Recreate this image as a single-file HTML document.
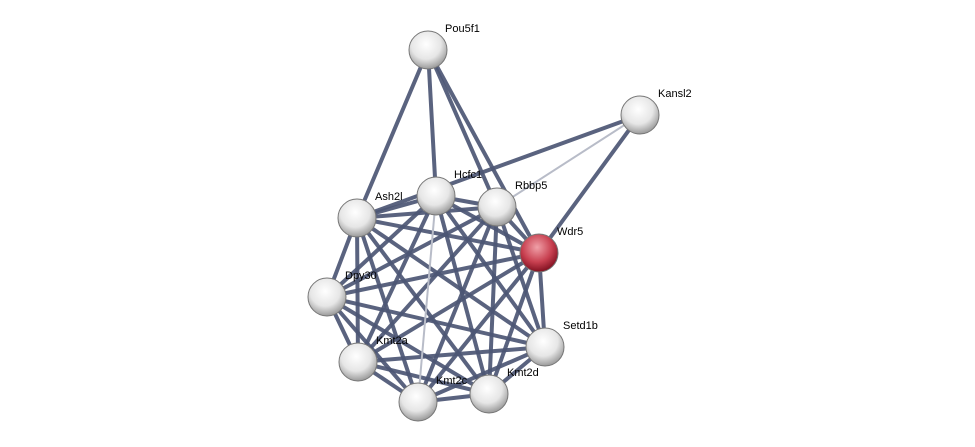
<!DOCTYPE html>
<html><head><meta charset="utf-8"><style>
html,body{margin:0;padding:0;background:#fff;}
svg{display:block;}
text{font-family:"Liberation Sans",sans-serif;font-size:11px;fill:#000;}
</style></head><body>
<svg width="975" height="447" viewBox="0 0 975 447" xmlns="http://www.w3.org/2000/svg">
<defs>
<radialGradient id="g" cx="45%" cy="35%" r="65%">
<stop offset="0" stop-color="#ffffff"/><stop offset="0.6" stop-color="#e6e6e6"/><stop offset="1" stop-color="#9a9a9a"/>
</radialGradient>
<radialGradient id="r" cx="45%" cy="35%" r="65%">
<stop offset="0" stop-color="#f0a0a8"/><stop offset="0.6" stop-color="#c84050"/><stop offset="1" stop-color="#801020"/>
</radialGradient>
</defs>
<g stroke="#4c5674" stroke-width="4" stroke-opacity="0.92" stroke-linecap="round">
<line x1="428" y1="50" x2="357" y2="218"/>
<line x1="428" y1="50" x2="436" y2="196"/>
<line x1="428" y1="50" x2="497" y2="207"/>
<line x1="428" y1="50" x2="539" y2="253"/>
<line x1="640" y1="115" x2="357" y2="218"/>
<line x1="640" y1="115" x2="539" y2="253"/>
<line x1="357" y1="218" x2="436" y2="196"/>
<line x1="357" y1="218" x2="497" y2="207"/>
<line x1="357" y1="218" x2="539" y2="253"/>
<line x1="357" y1="218" x2="327" y2="297"/>
<line x1="357" y1="218" x2="545" y2="347"/>
<line x1="357" y1="218" x2="358" y2="362"/>
<line x1="357" y1="218" x2="418" y2="402"/>
<line x1="357" y1="218" x2="489" y2="394"/>
<line x1="436" y1="196" x2="497" y2="207"/>
<line x1="436" y1="196" x2="539" y2="253"/>
<line x1="436" y1="196" x2="327" y2="297"/>
<line x1="436" y1="196" x2="545" y2="347"/>
<line x1="436" y1="196" x2="358" y2="362"/>
<line x1="436" y1="196" x2="489" y2="394"/>
<line x1="497" y1="207" x2="539" y2="253"/>
<line x1="497" y1="207" x2="327" y2="297"/>
<line x1="497" y1="207" x2="545" y2="347"/>
<line x1="497" y1="207" x2="358" y2="362"/>
<line x1="497" y1="207" x2="418" y2="402"/>
<line x1="497" y1="207" x2="489" y2="394"/>
<line x1="539" y1="253" x2="327" y2="297"/>
<line x1="539" y1="253" x2="545" y2="347"/>
<line x1="539" y1="253" x2="358" y2="362"/>
<line x1="539" y1="253" x2="418" y2="402"/>
<line x1="539" y1="253" x2="489" y2="394"/>
<line x1="327" y1="297" x2="545" y2="347"/>
<line x1="327" y1="297" x2="358" y2="362"/>
<line x1="327" y1="297" x2="418" y2="402"/>
<line x1="327" y1="297" x2="489" y2="394"/>
<line x1="545" y1="347" x2="358" y2="362"/>
<line x1="545" y1="347" x2="418" y2="402"/>
<line x1="545" y1="347" x2="489" y2="394"/>
<line x1="358" y1="362" x2="418" y2="402"/>
<line x1="358" y1="362" x2="489" y2="394"/>
<line x1="418" y1="402" x2="489" y2="394"/>
</g>
<g stroke="#b8bcc8" stroke-width="2">
<line x1="640" y1="115" x2="497" y2="207"/>
<line x1="436" y1="196" x2="418" y2="402"/>
</g>
<g stroke="#777" stroke-width="1">
<circle cx="428" cy="50" r="19" fill="url(#g)"/>
<circle cx="640" cy="115" r="19" fill="url(#g)"/>
<circle cx="436" cy="196" r="19" fill="url(#g)"/>
<circle cx="497" cy="207" r="19" fill="url(#g)"/>
<circle cx="357" cy="218" r="19" fill="url(#g)"/>
<circle cx="539" cy="253" r="19" fill="url(#r)"/>
<circle cx="327" cy="297" r="19" fill="url(#g)"/>
<circle cx="545" cy="347" r="19" fill="url(#g)"/>
<circle cx="358" cy="362" r="19" fill="url(#g)"/>
<circle cx="418" cy="402" r="19" fill="url(#g)"/>
<circle cx="489" cy="394" r="19" fill="url(#g)"/>
</g>
<text x="445" y="32">Pou5f1</text>
<text x="658" y="97">Kansl2</text>
<text x="454" y="178">Hcfc1</text>
<text x="515" y="189">Rbbp5</text>
<text x="375" y="200">Ash2l</text>
<text x="557" y="235">Wdr5</text>
<text x="345" y="279">Dpy30</text>
<text x="563" y="329">Setd1b</text>
<text x="376" y="344">Kmt2a</text>
<text x="436" y="384">Kmt2c</text>
<text x="507" y="376">Kmt2d</text>
</svg>
</body></html>
